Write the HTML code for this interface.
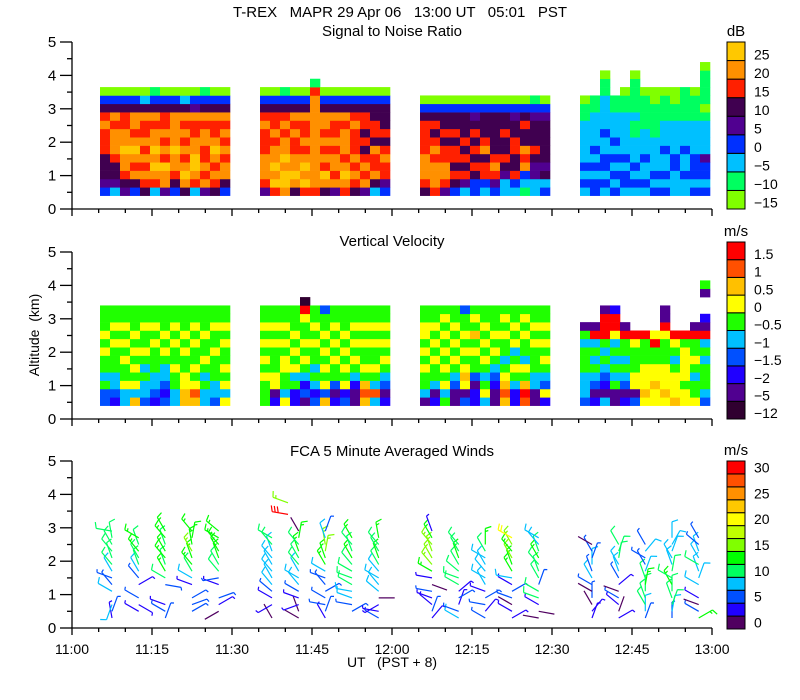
<!DOCTYPE html>
<html><head><meta charset="utf-8"><style>
html,body{margin:0;padding:0;background:#fff;}
svg{display:block;font-family:"Liberation Sans",sans-serif;}
text{white-space:pre;}
</style></head><body>
<svg id="c" width="800" height="700" viewBox="0 0 800 700" xmlns="http://www.w3.org/2000/svg"></svg>
<script>
// ---- shared axis data ----
const xTickLabels = ["11:00","11:15","11:30","11:45","12:00","12:15","12:30","12:45","13:00"];
const yTickLabels = ["0","1","2","3","4","5"];
// heatmap segments: start minute after 11:00, 13 columns each
const segStarts = [5.25, 35.25, 65.25, 95.25];
const colMinutes = 1.875;
const rowBase = 0.4, rowStep = 0.25;
// SNR levels 0..8 => -15..25 dB (bottom-to-top per column, '.' = no data)
const snrLabels = ["-15","-10","-5","0","5","10","15","20","25"];
const snrColors = ["#80ff00","#00ff60","#00c0ff","#0030ff","#500090","#400050","#ff2000","#ff9000","#ffc800"];
const snrCols = [
"3455566676530","2455677767530","4567787766530","3576787677530","5676767667520","2678787767531","4778676766530","3567787777530","5787676767520","2678877667430","4767667767531","5676787667530","3577676767530",
"4677766676530","6878776766530","7887877676531","5787766767530","6878767667530","67777777777761","5786767677530","4767767667530","6787677767530","5676766676530","4767656566530","2576675665530","3466765655530",
"567776666530","677767656530","467766565530","356566565530","246565655530","335656565430","236657655530","346765555530","224565565530","236556655430","123767556530","224456555431","325455555430",
"232322222110","332323222211","232332232222110","323232322211","2332322222110","232322211211110","2322322211110","3232222111100","3232232221110","2223322221100","2232232221111","3233322221110","3233422221011110"
];
// Vertical velocity levels 0..9 => -12 .. 1.5 m/s
const vvLabels = ["-12","-5","-2","-1.5","-1","-0.5","0","0.5","1","1.5"];
const vvColors = ["#300030","#500090","#2000ff","#0050ff","#00c0ff","#20ff00","#ffff00","#ffc000","#ff5000","#ff0000"];
const vvCols = [
"335455656555","234455565655","446556565655","746565656555","344545655655","234455565655","323445656555","445565565655","776655656555","786565565655","445456556555","344555655655","646565565655",
"555656565655","216655565655","645566565655","225465656555","1324565655690","324545565655","736565656553","213556565655","326565656555","112456565655","787565565655","484565565655","213456565655",
"145565656655","214556565655","546565656565","113456565655","316765656553","221355657565","465456565655","112345656555","787654556565","224565465655","897564556565","114455565655","263456565655",
"3444555451","2134545491","412345459991","115454546992","2134545591","316655569","676665559","667665596","676665556911","766654569","665666659","6554565591","34555454912..15"
];
// Winds
const windTimes = [7.5,12.5,17.5,22.5,27.5,37.5,42.5,47.5,52.5,57.5,67.5,72.5,77.5,82.5,87.5,97.5,102.5,107.5,112.5,117.5];
const windAlts = [0.3,0.5,0.7,0.9,1.1,1.3,1.5,1.7,1.9,2.1,2.3,2.5,2.7,2.9];
const windSpeed = [
[4,5,8,-1,8,6,5,9,10,12,11,12,11,10],
[-1,3,4,5,-1,4,6,9,11,12,13,12,13,-1],
[5,6,4,-1,-1,7,12,13,12,14,13,12,13,14],
[-1,5,6,7,-1,4,9,10,13,14,15,14,14,13],
[-1,2,3,5,-1,4,6,11,12,13,14,13,13,14],
[2,-1,3,4,6,8,9,8,9,9,9,10,11,-1],
[2,1,3,4,6,8,9,9,11,12,13,12,13,1],
[4,6,5,7,6,5,6,8,13,14,16,15,9,7],
[-1,5,7,8,9,10,12,12,12,13,11,12,13,-1],
[7,4,3,2,8,9,8,9,12,13,11,12,13,-1],
[4,5,3,4,6,2,4,13,16,17,16,15,14,3],
[8,6,4,5,4,12,11,12,12,13,12,11,-1,-1],
[5,4,6,6,4,8,9,8,8,9,12,13,-1,-1],
[3,4,2,5,6,3,8,13,14,15,14,16,22,-1],
[2,1,3,12,11,7,10,12,12,13,11,9,8,-1],
[4,3,1,5,1,6,8,7,9,7,6,1,-1,-1],
[3,2,4,6,1,4,6,8,9,11,12,11,-1,-1],
[6,9,12,11,10,13,12,8,6,6,9,5,-1,-1],
[6,8,11,12,12,13,11,10,9,9,8,9,9,-1],
[13,5,2,4,-1,9,9,9,10,8,8,7,5,-1]];
const windDir = [
[350,20,200,0,300,320,290,330,320,340,320,330,350,280],
[0,300,120,300,0,60,320,330,340,330,320,340,300,0],
[20,300,290,0,0,100,300,330,340,320,330,340,320,330],
[0,60,70,60,0,290,300,330,320,340,330,350,10,320],
[0,240,60,70,0,290,260,320,330,340,330,320,300,310],
[330,0,240,300,310,320,330,320,330,320,340,320,300,0],
[300,340,250,290,300,320,300,330,320,330,340,320,10,330],
[330,20,280,300,60,320,290,300,330,340,10,350,340,20],
[0,60,280,290,280,300,290,300,320,330,340,320,330,0],
[300,280,240,90,310,320,300,320,330,340,330,320,350,0],
[40,20,310,290,280,110,280,300,320,330,340,320,330,340],
[300,290,20,60,50,300,290,310,330,340,330,320,0,0],
[300,40,280,60,290,330,300,320,330,300,330,0,0,0],
[60,300,300,290,60,300,280,330,340,330,320,330,300,0],
[280,100,300,290,300,20,330,340,320,330,340,320,300,0],
[20,40,330,0,300,300,330,340,0,20,330,300,0,0],
[60,20,310,300,290,50,330,340,330,10,20,330,0,0],
[20,0,330,340,0,10,340,20,330,300,40,330,0,0],
[0,10,20,340,0,330,300,10,340,330,20,30,0,0],
[60,300,290,300,0,300,20,340,300,330,340,310,330,0]];
const extraTimes = [40.5,40.5];
const extraAlts = [3.4,3.75];
const extraSpeed = [31,17];
const extraDir = [280,290];
const windLabels = ["0","5","10","15","20","25","30"];
const windColors = ["#500060","#2000ff","#0050ff","#00c0ff","#00ff60","#00ff00","#80ff00","#c0ff00","#ffff00","#ffc800","#ff9000","#ff5000","#ff0000"];

// ---- geometry ----
const NS="http://www.w3.org/2000/svg";
const svg=document.getElementById('c');
const X0=72, X1=712;
const xs = m => X0 + (X1-X0)*m/120;
const panels=[{base:209,top:42},{base:419,top:252},{base:628,top:461}];
function ys(p,km){return p.base-(p.base-p.top)*km/5;}
function mk(tag,attrs,parent){const e=document.createElementNS(NS,tag);for(const k in attrs)e.setAttribute(k,attrs[k]);(parent||svg).appendChild(e);return e;}
function txt(s,x,y,opt,parent){const t=mk('text',Object.assign({x:x,y:y,'font-size':14,fill:'#000','text-anchor':'middle'},opt||{}),parent);t.textContent=s;return t;}

// titles
let t;
t=txt("T-REX   MAPR 29 Apr 06   13:00 UT   05:01   PST",400,17,{'font-size':15});


t=txt("Signal to Noise Ratio",392,36,{'font-size':15});


t=txt("Vertical Velocity",392,246,{'font-size':15});


t=txt("FCA 5 Minute Averaged Winds",392,456,{'font-size':15});


t=txt("Altitude  (km)",0,0,{transform:'translate(39,335) rotate(-90)'});


t=txt("UT   (PST + 8)",392,667);



// heatmaps
function heat(p,cols,colors,name){
  const g=mk('g',{});
  
  
  cols.forEach((s,ci)=>{
    const seg=Math.floor(ci/13), k=ci%13;
    const m0=segStarts[seg]+k*colMinutes;
    const x=xs(m0), w=xs(m0+colMinutes)-x;
    for(let r=0;r<s.length;r++){
      const ch=s[r]; if(ch==='.')continue;
      const a0=rowBase+r*rowStep;
      const y1=ys(p,a0), y2=ys(p,a0+rowStep);
      const rc=mk('rect',{x:x.toFixed(2),y:y2.toFixed(2),width:(w+0.3).toFixed(2),height:(y1-y2+0.3).toFixed(2),fill:colors[+ch]},g);
      
      
    }
  });
}
heat(panels[0],snrCols,snrColors,'snr-heatmap');
heat(panels[1],vvCols,vvColors,'velocity-heatmap');

// winds
function windColor(s){return windColors[Math.max(0,Math.min(12,Math.floor(s/2.5)))];}
const wg=mk('g',{'stroke-width':1.2,fill:'none'});


function barb(m,alt,sp,dir){
  const p=panels[2];
  const x=xs(m), y=ys(p,alt);
  const r=dir*Math.PI/180, dx=Math.sin(r), dy=-Math.cos(r);
  const L=16, ex=x+dx*L, ey=y+dy*L;
  const c=windColor(sp);
  let d=`M${x.toFixed(1)} ${y.toFixed(1)}L${ex.toFixed(1)} ${ey.toFixed(1)}`;
  let rem=sp, pos=0;
  const px=-dy, py=dx;
  while(rem>=7.5){const bx=ex-dx*pos, by=ey-dy*pos;d+=`M${bx.toFixed(1)} ${by.toFixed(1)}l${(px*6+dx*2).toFixed(1)} ${(py*6+dy*2).toFixed(1)}`;rem-=10;pos+=3;}
  if(rem>=2.5){const bx=ex-dx*pos, by=ey-dy*pos;d+=`M${bx.toFixed(1)} ${by.toFixed(1)}l${(px*3+dx*1).toFixed(1)} ${(py*3+dy*1).toFixed(1)}`;}
  const pa=mk('path',{d:d,stroke:c},wg);
  
  
}
windTimes.forEach((m,ci)=>{windAlts.forEach((a,ri)=>{const s=windSpeed[ci][ri];if(s>=0)barb(m,a,s,windDir[ci][ri]);});});
extraTimes.forEach((m,i)=>barb(m,extraAlts[i],extraSpeed[i],extraDir[i]));

// axes
panels.forEach((p,pi)=>{
  const g=mk('g',{stroke:'#000','stroke-width':1.3});
  
  
  mk('line',{x1:X0,y1:p.base,x2:X1,y2:p.base},g);
  mk('line',{x1:X0,y1:p.base,x2:X0,y2:p.top},g);
  for(let m=0;m<=120;m+=5){const x=xs(m);mk('line',{x1:x,y1:p.base,x2:x,y2:p.base+(m%15===0?7:4)},g);}
  for(let i=0;i<=10;i++){const y=ys(p,i*0.5);mk('line',{x1:X0,y1:y,x2:X0-(i%2===0?12:5),y2:y},g);}
  yTickLabels.forEach((l,i)=>{const tt=txt(l,52,ys(p,+l)+5,{'font-size':15});});
});
xTickLabels.forEach((l,i)=>{const tt=txt(l,xs(i*15),654,{'font-size':14});});

// colorbars
function cbar(x,y0,y1,colors,labels,labelPos,unit,name){
  const g=mk('g',{});
  
  
  const n=colors.length,h=(y1-y0)/n;
  for(let i=0;i<n;i++){const r=mk('rect',{x:x,y:y1-(i+1)*h,width:18,height:h,fill:colors[i],stroke:'#000','stroke-width':1},g);}
  labels.forEach((l,i)=>{const yy=labelPos(i,h);const tt=txt(l.replace('-','\u2212'),x+27,yy+5,{'text-anchor':'start','font-size':14},g);});
  const u=txt(unit,x+9,y0-6,{'font-size':15},g);
  
  
}
cbar(727,42,209,snrColors,snrLabels,(i,h)=>209-i*h-h/2+3,"dB",'snr-colorbar');
cbar(727,242,419,vvColors,vvLabels,(i,h)=>419-i*h-h/2+3,"m/s",'velocity-colorbar');
cbar(727,461,629,windColors,windLabels,(i,h)=>629-(2*i)*h-h/2,"m/s",'wind-colorbar');
</script>
</body></html>
